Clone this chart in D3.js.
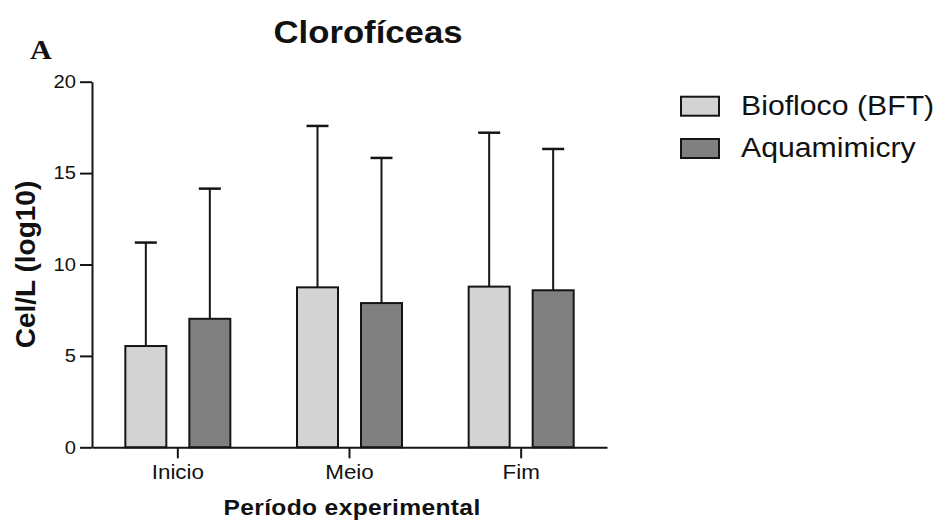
<!DOCTYPE html>
<html>
<head>
<meta charset="utf-8">
<script src="https://cdn.jsdelivr.net/npm/d3@7"></script>
<style>
  html, body { margin: 0; padding: 0; background: #fff; }
  svg { display: block; }
  text { font-family: "Liberation Sans", Arial, Helvetica, sans-serif; fill: #111; }
</style>
</head>
<body>
<svg id="chart" width="937" height="524"></svg>
<script>
// Chlorophyte density per experimental period (mean + SD, log10 cells/L)
const periods = ["Inicio", "Meio", "Fim"];
const seriesNames = ["Biofloco (BFT)", "Aquamimicry"];
const bftMean = [5.54, 8.75, 8.79];
const bftSD = [5.66, 8.83, 8.42];
const aquaMean = [7.03, 7.89, 8.59];
const aquaSD = [7.12, 7.94, 7.73];
const yTicks = [0, 5, 10, 15, 20];
const fills = ["#d3d3d3", "#808080"];

const rows = periods.flatMap((p, i) => [
  { period: p, series: seriesNames[0], mean: bftMean[i], sd: bftSD[i] },
  { period: p, series: seriesNames[1], mean: aquaMean[i], sd: aquaSD[i] }
]);

const svg = d3.select("#chart");
const ink = "#151515";
const sx = 1.12; // horizontal widening of the lettering

const x = d3.scaleBand().domain(periods).range([92, 607]).padding(0);
const xs = d3.scaleBand().domain(seriesNames).range([-53.5, 53.5]).paddingInner(0.328).paddingOuter(0);
const y = d3.scaleLinear().domain([0, 20]).range([447.3, 81.7]);
const color = d3.scaleOrdinal().domain(seriesNames).range(fills);

function wideText(g, tx, ty, str) {
  return g.append("text")
    .attr("transform", `translate(${tx},${ty}) scale(${sx},1)`)
    .text(str);
}

// bars
const bars = svg.append("g");
bars.selectAll("rect")
  .data(rows)
  .join("rect")
  .attr("x", d => x(d.period) + x.bandwidth() / 2 + xs(d.series) + 1)
  .attr("width", xs.bandwidth() - 2)
  .attr("y", d => y(d.mean))
  .attr("height", d => y(0) - y(d.mean))
  .attr("fill", d => color(d.series))
  .attr("stroke", ink)
  .attr("stroke-width", 2);

// upper error bars
const err = svg.append("g").attr("stroke", ink);
rows.forEach(d => {
  const cx = x(d.period) + x.bandwidth() / 2 + xs(d.series) + xs.bandwidth() / 2;
  err.append("line")
    .attr("x1", cx).attr("x2", cx)
    .attr("y1", y(d.mean)).attr("y2", y(d.mean + d.sd))
    .attr("stroke-width", 2);
  err.append("line")
    .attr("x1", cx - 11).attr("x2", cx + 11)
    .attr("y1", y(d.mean + d.sd)).attr("y2", y(d.mean + d.sd))
    .attr("stroke-width", 2.5);
});

// y axis
const yAxis = svg.append("g")
  .attr("transform", "translate(92,0)")
  .call(d3.axisLeft(y).tickValues(yTicks).tickSize(12).tickPadding(4).tickSizeOuter(0));
yAxis.selectAll("path, line").attr("stroke", ink).attr("stroke-width", 2);
yAxis.selectAll("text").each(function () {
  const t = d3.select(this);
  const tx = +t.attr("x");
  t.attr("x", 0).attr("transform", `translate(${tx},0) scale(${sx},1)`);
}).style("font-size", "18px").attr("fill", ink);

// x axis
const xAxis = svg.append("g")
  .attr("transform", `translate(0,${y(0)})`)
  .call(d3.axisBottom(x).tickSize(11).tickPadding(6).tickSizeOuter(0));
xAxis.selectAll("path, line").attr("stroke", ink).attr("stroke-width", 2);
xAxis.selectAll("text").each(function () {
  const t = d3.select(this);
  const ty = +t.attr("y");
  t.attr("y", 0).attr("transform", `translate(0,${ty}) scale(${sx},1)`);
}).style("font-size", "20px").attr("fill", ink);

// title and panel letter
wideText(svg, 368, 43, "Clorofíceas")
  .attr("text-anchor", "middle")
  .style("font-size", "31px").style("font-weight", "bold");
wideText(svg, 30, 59, "A")
  .style("font-family", "'Liberation Serif', 'Times New Roman', serif")
  .style("font-size", "27px").style("font-weight", "bold");

// axis titles
svg.append("text")
  .attr("transform", `translate(35,${(y(0) + y(20)) / 2}) rotate(-90)`)
  .attr("text-anchor", "middle")
  .style("font-size", "28px").style("font-weight", "bold")
  .text("Cel/L (log10)");
wideText(svg, 352, 515, "Período experimental")
  .attr("text-anchor", "middle")
  .style("font-size", "22px").style("font-weight", "bold")
  .style("letter-spacing", "0.3px");

// legend
const legend = svg.append("g");
seriesNames.forEach((s, i) => {
  const ly = 96.7 + i * 42.3;
  legend.append("rect")
    .attr("x", 681).attr("y", ly)
    .attr("width", 38).attr("height", 19)
    .attr("fill", color(s)).attr("stroke", ink).attr("stroke-width", 2);
  wideText(legend, 741, ly + 17.8, s).style("font-size", "27px");
});
</script>
</body>
</html>
